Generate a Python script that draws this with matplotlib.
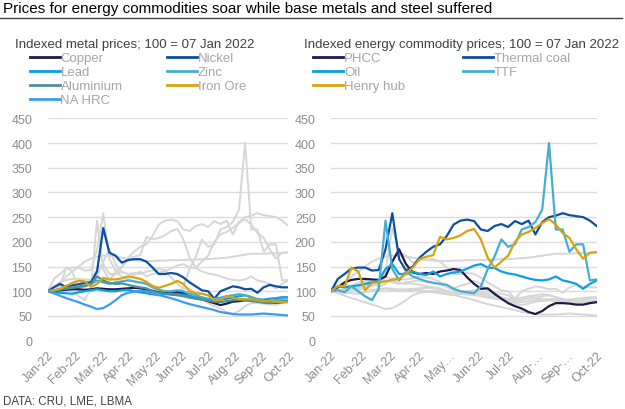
import numpy as np
import matplotlib
matplotlib.use("Agg")
import matplotlib.pyplot as plt
from matplotlib.lines import Line2D

plt.rcParams['font.family'] = ['Liberation Sans', 'DejaVu Sans']

# weekly index values, 100 = 07 Jan 2022
weeks = np.arange(40)

# metals
copper = [100, 100, 102, 103, 104, 104, 103, 104, 106, 105, 104, 104, 105, 106, 107, 106, 104, 101, 98, 97,
          97, 98, 96, 90, 86, 84, 80, 76, 72, 75, 79, 80, 82, 81, 80, 78, 77, 77, 78, 79]
nickel = [100, 108, 115, 108, 112, 114, 117, 118, 140, 228, 178, 172, 158, 163, 165, 165, 160, 148, 135, 135,
          137, 135, 128, 118, 110, 102, 100, 85, 100, 105, 110, 108, 104, 105, 97, 108, 113, 110, 108, 108]
lead = [100, 98, 97, 96, 95, 98, 100, 102, 104, 102, 100, 100, 102, 103, 100, 98, 96, 94, 92, 94,
        95, 94, 93, 90, 88, 86, 84, 82, 83, 85, 87, 90, 92, 88, 84, 83, 85, 86, 88, 88]
zinc = [100, 102, 104, 106, 108, 110, 112, 115, 122, 118, 115, 118, 120, 122, 120, 118, 115, 108, 103, 100,
        100, 102, 100, 95, 92, 88, 85, 85, 87, 90, 92, 94, 92, 88, 84, 80, 80, 82, 85, 86]
aluminium = [100, 102, 104, 105, 107, 109, 110, 115, 130, 122, 117, 115, 116, 113, 110, 108, 106, 100, 97, 95,
             93, 92, 90, 87, 85, 83, 81, 79, 78, 80, 82, 83, 82, 80, 79, 77, 76, 78, 80, 81]
iron_ore = [100, 102, 105, 111, 117, 121, 120, 109, 115, 127, 124, 124, 126, 130, 128, 125, 119, 110, 107, 111,
            115, 121, 115, 100, 96, 95, 92, 82, 83, 90, 87, 84, 84, 84, 82, 80, 80, 79, 78, 78]
na_hrc = [100, 96, 91, 86, 82, 78, 73, 69, 64, 66, 73, 82, 92, 97, 99, 101, 100, 96, 93, 89,
          86, 82, 78, 74, 71, 68, 65, 62, 58, 56, 54, 53, 53, 53, 54, 55, 54, 53, 52, 51]

# energy
phcc = [100, 108, 118, 123, 125, 125, 124, 123, 130, 160, 185, 155, 138, 135, 137, 135, 140, 142, 145, 143,
        128, 115, 105, 106, 95, 85, 76, 70, 65, 58, 54, 60, 70, 76, 76, 75, 73, 73, 76, 78]
thermal_coal = [100, 125, 135, 146, 148, 148, 142, 143, 185, 258, 165, 142, 150, 168, 180, 190, 195, 212, 235, 243,
                245, 242, 225, 222, 232, 236, 230, 242, 236, 243, 215, 240, 250, 253, 258, 254, 252, 250, 243, 232]
oil = [100, 110, 108, 110, 112, 115, 118, 122, 145, 155, 135, 135, 140, 135, 133, 140, 130, 135, 138, 140,
       146, 152, 155, 148, 147, 140, 136, 134, 130, 126, 123, 122, 124, 130, 122, 119, 115, 105, 115, 122]
ttf = [100, 102, 98, 110, 100, 90, 82, 105, 243, 145, 122, 140, 130, 125, 120, 117, 115, 113, 105, 100,
       98, 96, 110, 145, 170, 205, 190, 195, 225, 230, 240, 265, 400, 225, 225, 180, 195, 195, 122, 124]
henry_hub = [100, 111, 110, 148, 140, 102, 117, 118, 120, 123, 125, 135, 148, 165, 170, 173, 210, 205, 208, 213,
             222, 226, 205, 168, 148, 160, 172, 200, 215, 220, 228, 238, 246, 235, 218, 208, 185, 166, 178, 179]
# unlabelled series shown grey in both panels
other = [100, 108, 118, 130, 140, 150, 160, 166, 170, 172, 172, 171, 168, 165, 163, 162, 161, 161, 162, 162,
         163, 163, 163, 164, 164, 165, 165, 166, 167, 168, 170, 172, 174, 176, 176, 176, 177, 177, 178, 178]

metal_names = ['Copper', 'Nickel', 'Lead', 'Zinc', 'Aluminium', 'Iron Ore', 'NA HRC']
metal_series = [copper, nickel, lead, zinc, aluminium, iron_ore, na_hrc]
metal_colors = ['#1c1b4d', '#0d4ea3', '#0aa0e0', '#44aed2', '#4f8f94', '#d8a30c', '#3a9cf4']

energy_names = ['PHCC', 'Thermal coal', 'Oil', 'TTF', 'Henry hub']
energy_series = [phcc, thermal_coal, oil, ttf, henry_hub]
energy_colors = ['#1c1b4d', '#0d4ea3', '#0aa0e0', '#44aed2', '#d8a30c']

left_ticks = ['Jan-22', 'Feb-22', 'Mar-22', 'Apr-22', 'May-22', 'Jun-22', 'Jul-22', 'Aug-22', 'Sep-22', 'Oct-22']
right_ticks = ['Jan-22', 'Feb-22', 'Mar-22', 'Apr-22', 'May\u2026', 'Jun-22', 'Jul-22', 'Aug-\u2026', 'Sep-\u2026', 'Oct-22']

GREY = '#d6d6d6'
TXT = '#8c8c8c'
W, H = 625, 410

fig = plt.figure(figsize=(6.25, 4.1), dpi=100)


def fx(px):
    return px / W


def fy(py):
    return 1 - py / H


def setup(ax, labels):
    ax.set_xlim(0, weeks[-1])
    ax.set_ylim(0, 450)
    ax.set_yticks(np.arange(0, 451, 50))
    ax.grid(axis='y', color='#dcdcdc', lw=1)
    ax.set_axisbelow(True)
    for s in ax.spines.values():
        s.set_visible(False)
    ax.set_xticks(np.linspace(0, weeks[-1], len(labels)))
    ax.set_xticklabels(labels, rotation=45, ha='right', rotation_mode='anchor')
    ax.tick_params(length=0, labelsize=9, labelcolor=TXT)
    ax.tick_params(axis='y', pad=11)
    ax.tick_params(axis='x', pad=6)


# left panel: metals coloured, energy grey
ax1 = fig.add_axes([fx(47.7), fy(341.7), fx(288.3 - 47.7), (341.7 - 119.3) / H])
for s in energy_series + [other]:
    ax1.plot(weeks, s, color=GREY, lw=1.4)
for s, c in zip(metal_series, metal_colors):
    ax1.plot(weeks, s, color=c, lw=1.6)
setup(ax1, left_ticks)

# right panel: energy coloured, metals grey
ax2 = fig.add_axes([fx(331), fy(341.7), fx(596.7 - 331), (341.7 - 119.3) / H])
for s in metal_series + [other]:
    ax2.plot(weeks, s, color=GREY, lw=1.4)
for s, c in zip(energy_series, energy_colors):
    ax2.plot(weeks, s, color=c, lw=1.6)
setup(ax2, right_ticks)

# title and rule
fig.text(fx(3), fy(12.7), 'Prices for energy commodities soar while base metals and steel suffered',
         fontsize=11, color='black', va='baseline')
fig.add_artist(Line2D([fx(0), fx(622)], [fy(19), fy(19)], color='#404040', lw=1))

# subtitles
fig.text(fx(15), fy(48.3), 'Indexed metal prices; 100 = 07 Jan 2022', fontsize=9.5, color='#404040', va='baseline')
fig.text(fx(304), fy(48.3), 'Indexed energy commodity prices; 100 = 07 Jan 2022', fontsize=9.5,
         color='#404040', va='baseline')


def legend(names, colors, cols_x, row0):
    for i, (n, c) in enumerate(zip(names, colors)):
        x0 = cols_x[i % 2]
        yy = row0 + 14 * (i // 2)
        fig.add_artist(Line2D([fx(x0), fx(x0 + 30)], [fy(yy), fy(yy)], color=c, lw=2))
        fig.text(fx(x0 + 31), fy(yy + 3.5), n, fontsize=9.5, color='#a6a6a6', va='baseline')


legend(metal_names, metal_colors, [29.5, 166.5], 58.3)
legend(energy_names, energy_colors, [313.3, 462.7], 58.3)

fig.text(fx(3), fy(405), 'DATA: CRU, LME, LBMA', fontsize=8.3, color='#404040', va='baseline')

fig.savefig('out.png', dpi=100)
